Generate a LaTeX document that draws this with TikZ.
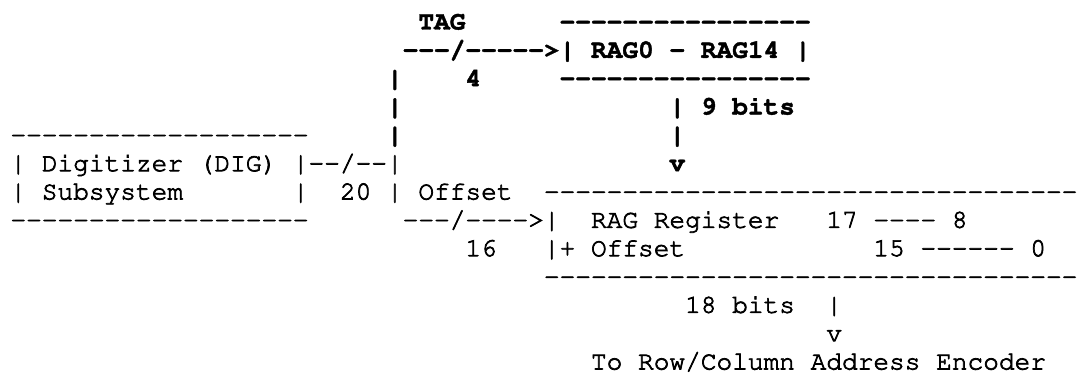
\documentclass[tikz,border=0pt]{standalone}
\usepackage[T1]{fontenc}
\usepackage{courier}
\usepackage{tikz}

\newcommand\hy[1]{\foreach\k in {1,...,#1}{-{}}}
\newcommand\ink[1]{\special{pdf:literal direct 2 Tr #1 w}}

\begin{document}
\begin{tikzpicture}[x=7.845pt,y=-14.167pt,
  asc/.style={anchor=base west,inner sep=0pt,outer sep=0pt,
    font=\fontsize{13.075}{15}\selectfont\ttfamily\ink{0.35}},
  bold/.style={asc,font=\fontsize{13.075}{15}\selectfont\ttfamily\bfseries\ink{0.2}}]
  \useasboundingbox (-5.23pt,14.75pt) rectangle (534.77pt,-172.25pt);
  \node[bold] (tag) at (26,0) {TAG};
  \node[bold] (ragtop) at (35,0) {\hy{16}};
  \node[bold] (tagbus) at (25,1) {\hy{3}/\hy{5}>};
  \node[bold] (rag) at (35,1) {| RAG0 - RAG14 |};
  \node[bold] (riseA) at (24,2) {|};
  \node[bold] (tagw) at (29,2) {4};
  \node[bold] (ragbot) at (35,2) {\hy{16}};
  \node[bold] (riseB) at (24,3) {|};
  \node[bold] (ragout) at (42,3) {|};
  \node[bold] (ragw) at (44,3) {9 bits};
  \node[asc] (digtop) at (0,4) {\hy{19}};
  \node[bold] (riseC) at (24,4) {|};
  \node[bold] (ragline) at (42,4) {|};
  \node[asc] (dig) at (0,5) {| Digitizer (DIG) |};
  \node[asc] (digbus) at (19,5) {\hy{2}/\hy{2}|};
  \node[bold] (raghead) at (42,5) {v};
  \node[asc] (digsub) at (0,6) {| Subsystem};
  \node[asc] (digside) at (18,6) {|};
  \node[asc] (digw) at (21,6) {20};
  \node[asc] (riseD) at (24,6) {|};
  \node[asc] (off) at (26,6) {Offset};
  \node[asc] (regtop) at (34,6) {\hy{34}};
  \node[asc] (digbot) at (0,7) {\hy{19}};
  \node[asc] (offbus) at (25,7) {\hy{3}/\hy{4}>};
  \node[asc] (reg) at (34,7) {|};
  \node[asc] (regname) at (37,7) {RAG Register};
  \node[asc] (hiA) at (52,7) {17};
  \node[asc] (hiB) at (55,7) {\hy{4}};
  \node[asc] (hiC) at (60,7) {8};
  \node[asc] (offw) at (29,8) {16};
  \node[asc] (regoff) at (34,8) {|+ Offset};
  \node[asc] (loA) at (55,8) {15};
  \node[asc] (loB) at (58,8) {\hy{6}};
  \node[asc] (loC) at (65,8) {0};
  \node[asc] (regbot) at (34,9) {\hy{34}};
  \node[asc] (regw) at (43,10) {18 bits};
  \node[asc] (regout) at (52,10) {|};
  \node[asc] (reghead) at (52,11) {v};
  \node[asc] (enc) at (37,12) {To Row/Column Address Encoder};
\end{tikzpicture}
\end{document}
